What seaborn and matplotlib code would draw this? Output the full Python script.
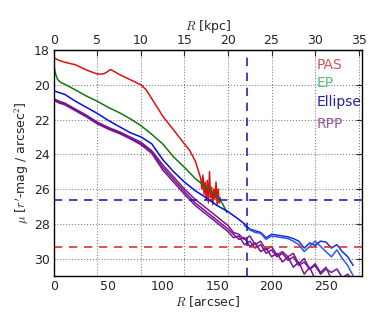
import matplotlib
matplotlib.use("Agg")
import matplotlib.pyplot as plt
import seaborn as sns
import numpy as np

# surface brightness profiles, R in arcsec, mu in r'-mag / arcsec^2
pas_r = [0, 5, 10, 20, 30, 40, 45, 48, 52, 56, 60, 70, 80, 85, 90, 95, 100, 105,
         110, 115, 120, 125, 130, 133, 135, 136, 137, 138, 139, 140, 141, 142,
         143, 144, 145, 146, 147, 148, 149, 150, 151, 152, 153]
pas_mu = [18.45, 18.6, 18.7, 18.85, 19.15, 19.38, 19.38, 19.3, 19.12, 19.25, 19.4,
          19.7, 20.0, 20.3, 20.8, 21.3, 21.8, 22.2, 22.6, 23.0, 23.4, 23.8, 24.4,
          25.0, 25.4, 26.0, 25.2, 26.3, 25.6, 26.6, 25.5, 26.8, 25.0, 26.5, 25.9,
          26.9, 26.0, 26.6, 25.6, 26.9, 26.0, 26.8, 26.5]

ep_r = [0, 1, 2, 3.5, 6, 11, 20, 30, 40, 50, 60, 70, 80, 90, 100, 110, 120, 130,
        140, 150, 155, 159]
ep_mu = [18.85, 19.2, 19.45, 19.7, 19.85, 20.0, 20.3, 20.65, 20.95, 21.3, 21.6,
         21.95, 22.35, 22.85, 23.4, 24.15, 24.75, 25.4, 25.9, 26.45, 26.85, 27.35]

ell_r = [0, 5, 10, 20, 30, 40, 50, 60, 70, 80, 90, 100, 110, 120, 130, 140, 150,
         160, 170, 175]
ell_mu = [20.35, 20.45, 20.55, 20.95, 21.3, 21.65, 22.05, 22.4, 22.75, 23.0, 23.4,
          24.3, 25.0, 25.6, 26.1, 26.5, 26.95, 27.3, 27.75, 28.0]

ell_tail_r = [175, 180, 185, 190, 195, 200, 205, 210, 215, 220, 225, 230, 235, 240,
              245, 250, 255, 260, 265, 270, 275]
ell_tail1 = [28.0, 28.3, 28.4, 28.5, 28.8, 28.6, 28.65, 28.7, 28.75, 28.85, 29.0,
             29.4, 29.1, 29.25, 29.0, 29.05, 29.4, 29.2, 29.6, 29.9, 30.4]
ell_tail2 = [28.1, 28.35, 28.5, 28.55, 28.9, 28.7, 28.75, 28.8, 28.85, 29.0, 29.2,
             29.6, 29.3, 29.0, 29.3, 29.6, 29.9, 29.5, 30.0, 30.4, 31.0]

rpp_r = [0, 5, 10, 20, 30, 40, 50, 60, 70, 80, 90, 100, 110, 120, 130, 140, 150,
         160, 165, 170, 175, 180, 185, 190, 195, 200, 205, 210, 215, 220, 225, 230,
         235, 240, 245, 250, 255, 260, 265, 270, 275]
rpp1 = [20.8, 20.95, 21.05, 21.4, 21.75, 22.15, 22.45, 22.7, 23.0, 23.3, 23.8,
        24.6, 25.3, 26.0, 26.6, 27.1, 27.6, 28.1, 28.5, 28.6, 28.9, 28.7, 29.2,
        29.0, 29.5, 29.3, 29.8, 29.6, 29.9, 29.7, 30.3, 30.0, 30.6, 30.3, 30.8,
        30.5, 31.2, 31.4, 31.5, 31.5, 31.5]
rpp2 = [20.85, 21.0, 21.1, 21.45, 21.8, 22.2, 22.5, 22.75, 23.05, 23.4, 23.85,
        24.75, 25.45, 26.15, 26.8, 27.3, 27.8, 28.3, 28.6, 28.9, 28.8, 29.3, 29.1,
        29.6, 29.4, 29.9, 29.7, 30.2, 29.9, 30.5, 30.2, 30.9, 30.5, 31.2, 31.5,
        31.5, 31.5, 31.5, 31.5, 31.5, 31.5]
rpp3 = [20.9, 21.05, 21.15, 21.5, 21.85, 22.25, 22.55, 22.8, 23.1, 23.45, 23.95,
        24.9, 25.6, 26.3, 26.95, 27.45, 27.95, 28.45, 28.8, 28.7, 29.2, 29.0, 29.4,
        29.2, 29.7, 29.5, 29.9, 29.7, 30.1, 29.9, 30.4, 30.2, 30.6, 30.4, 30.9,
        30.6, 30.8, 30.6, 31.1, 30.9, 31.3]

mu_lim_ell = 26.65
mu_lim_pas = 29.35
r_lim = 177
arcsec_per_kpc = 8.0

sns.set_style("white")
plt.rcParams["mathtext.fontset"] = "cm"
plt.rcParams["font.family"] = ["DejaVu Sans"]

fig = plt.figure(figsize=(3.9, 3.25), dpi=100)
ax = fig.add_axes([0.138, 0.151, 0.79, 0.695])

sns.lineplot(x=pas_r, y=pas_mu, color="#dd1111", linewidth=1.1, ax=ax)
sns.lineplot(x=ep_r, y=ep_mu, color="#117711", linewidth=1.1, ax=ax)
for mu, c in [(rpp1, "#7a1a8a"), (rpp2, "#8b0a8b"), (rpp3, "#6a1a9a")]:
    sns.lineplot(x=rpp_r, y=mu, color=c, linewidth=1.1, ax=ax)
sns.lineplot(x=ell_r, y=ell_mu, color="#0011dd", linewidth=1.1, ax=ax)
sns.lineplot(x=ell_tail_r, y=ell_tail1, color="#1133dd", linewidth=1.1, ax=ax)
sns.lineplot(x=ell_tail_r, y=ell_tail2, color="#3355ee", linewidth=1.1, ax=ax)

ax.axhline(mu_lim_ell, color="#2222bb", ls="--", lw=1.2, dashes=(5, 4))
ax.axhline(mu_lim_pas, color="#dd3333", ls="--", lw=1.2, dashes=(5, 4))
ax.axvline(r_lim, color="#2222bb", ls="--", lw=1.2, dashes=(5, 4))

ax.set_xlim(0, 283)
ax.set_ylim(31, 18)
ax.set_yticks([18, 20, 22, 24, 26, 28, 30])
ax.set_xticks([0, 50, 100, 150, 200, 250])
ax.set_xlabel("$R$ [arcsec]", fontsize=9, labelpad=1)
ax.set_ylabel("$\\mu$ [$r'$-mag / arcsec$^2$]", fontsize=9, labelpad=2)
ax.tick_params(direction="in", labelsize=9, length=4, top=False, right=True, pad=3)

top = ax.secondary_xaxis("top", functions=(lambda r: r / arcsec_per_kpc,
                                             lambda k: k * arcsec_per_kpc))
top.set_xticks([0, 5, 10, 15, 20, 25, 30, 35])
top.tick_params(direction="in", labelsize=9, length=4, pad=2)
top.set_xlabel("$R$ [kpc]", fontsize=9, labelpad=3)

for k in [5, 10, 15, 20, 25, 30, 35]:
    ax.axvline(k * arcsec_per_kpc, color="gray", ls=":", lw=0.8, zorder=0)
for m in [20, 22, 24, 26, 28, 30]:
    ax.axhline(m, color="gray", ls=":", lw=0.8, zorder=0)

for s in ax.spines.values():
    s.set_color("black")
    s.set_linewidth(1)

labels = ["PAS", "EP", "Ellipse", "RPP"]
label_mu = [18.87, 19.92, 21.0, 22.27]
label_colors = ["#cc5555", "#55bb77", "#222299", "#995599"]
for t, m, c in zip(labels, label_mu, label_colors):
    ax.text(241, m, t, color=c, fontsize=10, va="center", ha="left")

fig.savefig("out.png", dpi=100)
